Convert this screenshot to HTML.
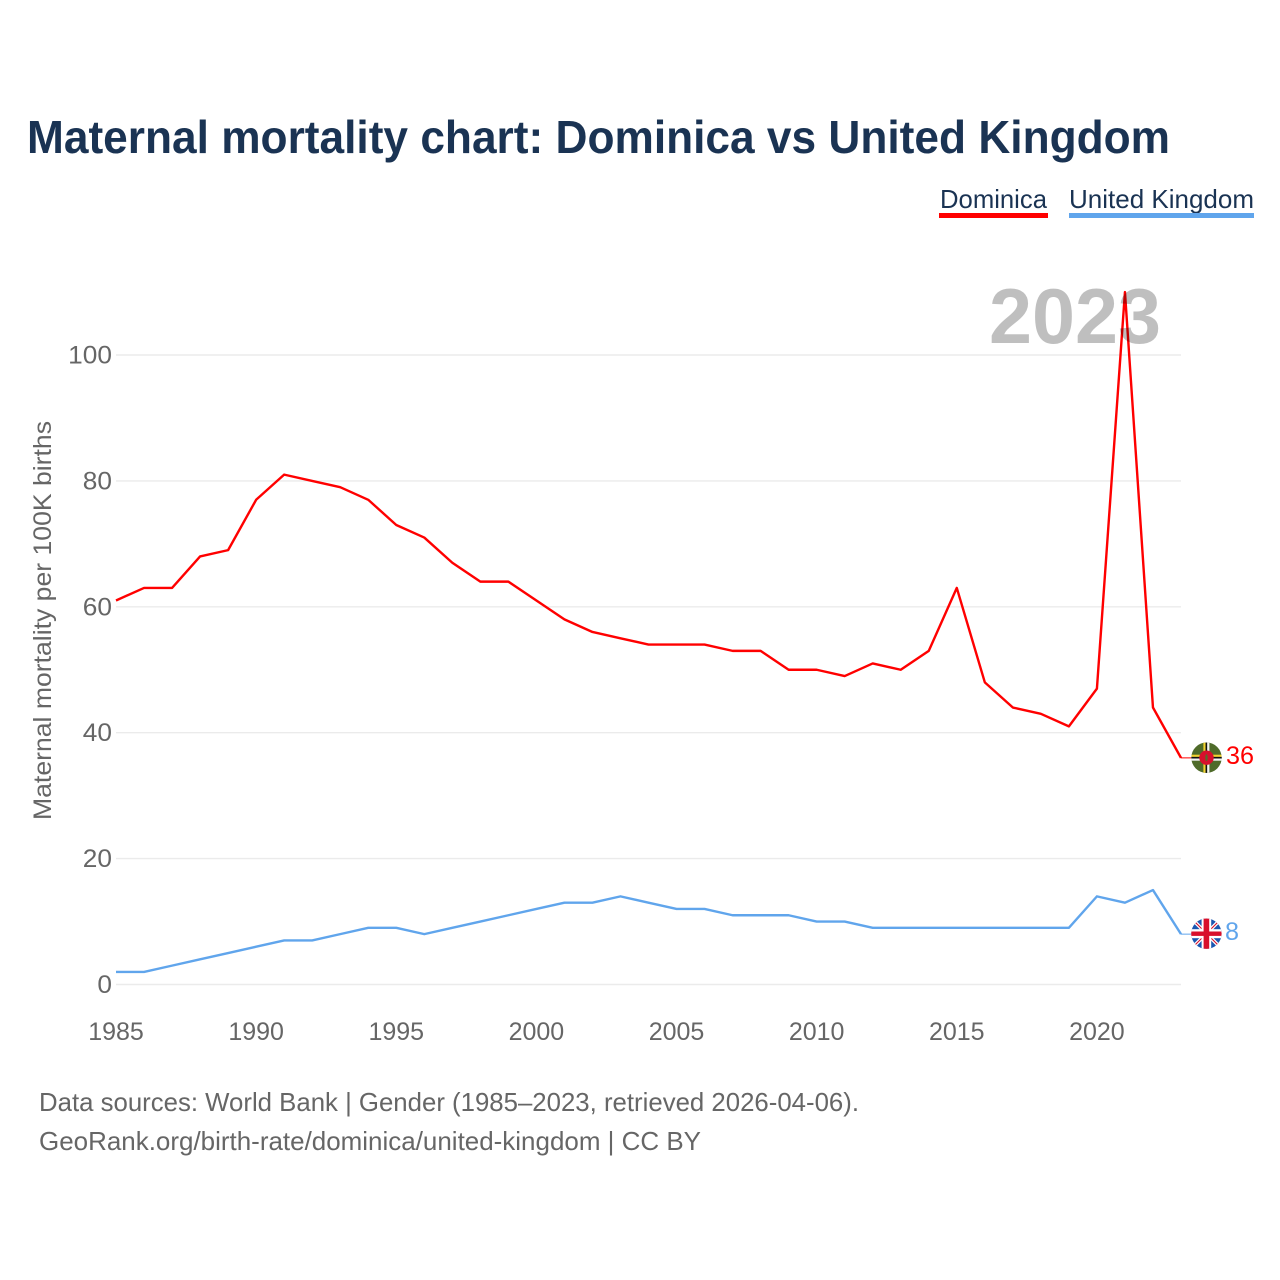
<!DOCTYPE html>
<html lang="en">
<head>
<meta charset="utf-8">
<title>Maternal mortality chart: Dominica vs United Kingdom</title>
<style>
html,body{margin:0;padding:0;background:#fff;width:1280px;height:1280px;overflow:hidden}
svg{display:block}
text{font-family:"Liberation Sans",sans-serif}
</style>
</head>
<body>
<svg id="chart" width="1280" height="1280" viewBox="0 0 1280 1280" xmlns="http://www.w3.org/2000/svg">
  <defs>
    <clipPath id="clip-dm"><circle cx="1206.5" cy="757.7" r="15.2"/></clipPath>
    <clipPath id="clip-uk"><circle cx="1206.4" cy="933.7" r="15.2"/></clipPath>
  </defs>
  <text x="27" y="153" font-size="46" font-weight="700" fill="#1a3353" textLength="1143" lengthAdjust="spacingAndGlyphs">Maternal mortality chart: Dominica vs United Kingdom</text>

  <g>
    <g>
      <text x="940" y="208" font-size="26" fill="#1a3353" textLength="107" lengthAdjust="spacingAndGlyphs">Dominica</text>
      <rect x="939" y="213" width="109" height="5" fill="#ff0000"/>
    </g>
    <g>
      <text x="1069" y="208" font-size="26" fill="#1a3353" textLength="185" lengthAdjust="spacingAndGlyphs">United Kingdom</text>
      <rect x="1069" y="213" width="185" height="5" fill="#60a5ec"/>
    </g>
  </g>

  <g id="grid"></g>
  <g id="ylabels"></g>
  <g id="xlabels"></g>
  <text transform="translate(51,820) rotate(-90)" font-size="25" fill="#666666" textLength="399" lengthAdjust="spacingAndGlyphs">Maternal mortality per 100K births</text>

  <g id="series"></g>

  <text id="year" x="989" y="343" font-size="78" font-weight="700" fill="#000000" fill-opacity="0.25" textLength="172" lengthAdjust="spacingAndGlyphs">2023</text>

  <g clip-path="url(#clip-dm)">
    <rect x="1190" y="741" width="33" height="34" fill="#4f6b2a"/>
    <rect x="1203.4" y="741" width="2.2" height="34" fill="#f2d230"/>
    <rect x="1205.6" y="741" width="1.6" height="34" fill="#111111"/>
    <rect x="1207.2" y="741" width="2.2" height="34" fill="#f4f4f4"/>
    <rect x="1190" y="754.7" width="33" height="2.2" fill="#f2d230"/>
    <rect x="1190" y="756.9" width="33" height="1.6" fill="#111111"/>
    <rect x="1190" y="758.5" width="33" height="2.2" fill="#f4f4f4"/>
    <circle cx="1206.5" cy="757.7" r="7.2" fill="#d8102c"/>
    <ellipse cx="1206.5" cy="757.7" rx="1.2" ry="3.5" fill="#5a6a2a"/>
  </g>
  <g clip-path="url(#clip-uk)">
    <rect x="1190" y="917" width="33" height="34" fill="#1a56b0"/>
    <path d="M1191 918L1222 949M1222 918L1191 949" stroke="#ffffff" stroke-width="3.6"/>
    <path d="M1191 918L1222 949M1222 918L1191 949" stroke="#d8102c" stroke-width="1.1"/>
    <rect x="1201.6" y="917" width="9.6" height="34" fill="#ffffff"/>
    <rect x="1190" y="929.2" width="33" height="9" fill="#ffffff"/>
    <rect x="1203.6" y="917" width="5.6" height="34" fill="#d8102c"/>
    <rect x="1190" y="931.5" width="33" height="4.4" fill="#d8102c"/>
  </g>

  <text x="1226" y="764" font-size="25" fill="#ff0000" textLength="28" lengthAdjust="spacingAndGlyphs">36</text>
  <text x="1225" y="940" font-size="25" fill="#60a5ec" textLength="14" lengthAdjust="spacingAndGlyphs">8</text>

  <text x="39" y="1111" font-size="26" fill="#666666" textLength="820" lengthAdjust="spacingAndGlyphs">Data sources: World Bank | Gender (1985–2023, retrieved 2026-04-06).</text>
  <text x="39" y="1150" font-size="26" fill="#666666" textLength="662" lengthAdjust="spacingAndGlyphs">GeoRank.org/birth-rate/dominica/united-kingdom | CC BY</text>
</svg>
<script>
const years = [1985,1986,1987,1988,1989,1990,1991,1992,1993,1994,1995,1996,1997,1998,1999,2000,2001,2002,2003,2004,2005,2006,2007,2008,2009,2010,2011,2012,2013,2014,2015,2016,2017,2018,2019,2020,2021,2022,2023];
const dominicaValues = [61,63,63,68,69,77,81,80,79,77,73,71,67,64,64,61,58,56,55,54,54,54,53,53,50,50,49,51,50,53,63,48,44,43,41,47,110,44,36];
const ukValues = [2,2,3,4,5,6,7,7,8,9,9,8,9,10,11,12,13,13,14,13,12,12,11,11,11,10,10,9,9,9,9,9,9,9,9,14,13,15,8];
const yTicks = [0,20,40,60,80,100];
const xTicks = [1985,1990,1995,2000,2005,2010,2015,2020];

const NS = 'http://www.w3.org/2000/svg';
function xScale(year){ return 116 + (year - 1985) * (1181 - 116) / 38; }
function yScale(v){ return 984.5 - v * 6.295; }
function make(tag, attrs){
  const el = document.createElementNS(NS, tag);
  for (const k in attrs) el.setAttribute(k, attrs[k]);
  return el;
}

const grid = document.getElementById('grid');
const ylabels = document.getElementById('ylabels');
const xlabels = document.getElementById('xlabels');
const series = document.getElementById('series');

yTicks.forEach(function(t){
  const line = make('line', {x1:116, x2:1181, y1:yScale(t), y2:yScale(t), stroke:'#ebebeb', 'stroke-width':1.4});
  
  
  grid.appendChild(line);
  const label = make('text', {x:112, y:yScale(t) + 8.5, 'font-size':25, fill:'#666666', 'text-anchor':'end', textLength:String(t).length * 14.6, lengthAdjust:'spacingAndGlyphs'});
  
  
  label.textContent = String(t);
  ylabels.appendChild(label);
});

xTicks.forEach(function(t){
  const label = make('text', {x:xScale(t), y:1040, 'font-size':25, fill:'#666666', 'text-anchor':'middle'});
  
  
  label.textContent = String(t);
  xlabels.appendChild(label);
});

function pointsFor(values){
  return values.map(function(v, i){ return xScale(years[i]).toFixed(2) + ',' + yScale(v).toFixed(2); }).join(' ');
}

const dominicaLine = make('polyline', {points:pointsFor(dominicaValues), fill:'none', stroke:'#ff0000', 'stroke-width':2.4, 'stroke-linejoin':'round'});


series.appendChild(dominicaLine);

const ukLine = make('polyline', {points:pointsFor(ukValues), fill:'none', stroke:'#60a5ec', 'stroke-width':2.4, 'stroke-linejoin':'round'});


series.appendChild(ukLine);

const lastIndex = years.length - 1;
const dominicaConnector = make('line', {x1:xScale(years[lastIndex]), x2:1191, y1:yScale(dominicaValues[lastIndex]), y2:yScale(dominicaValues[lastIndex]), stroke:'#ff0000', 'stroke-width':1});


series.appendChild(dominicaConnector);

const ukConnector = make('line', {x1:xScale(years[lastIndex]), x2:1191, y1:yScale(ukValues[lastIndex]), y2:yScale(ukValues[lastIndex]), stroke:'#60a5ec', 'stroke-width':1});


series.appendChild(ukConnector);
</script>
</body>
</html>
